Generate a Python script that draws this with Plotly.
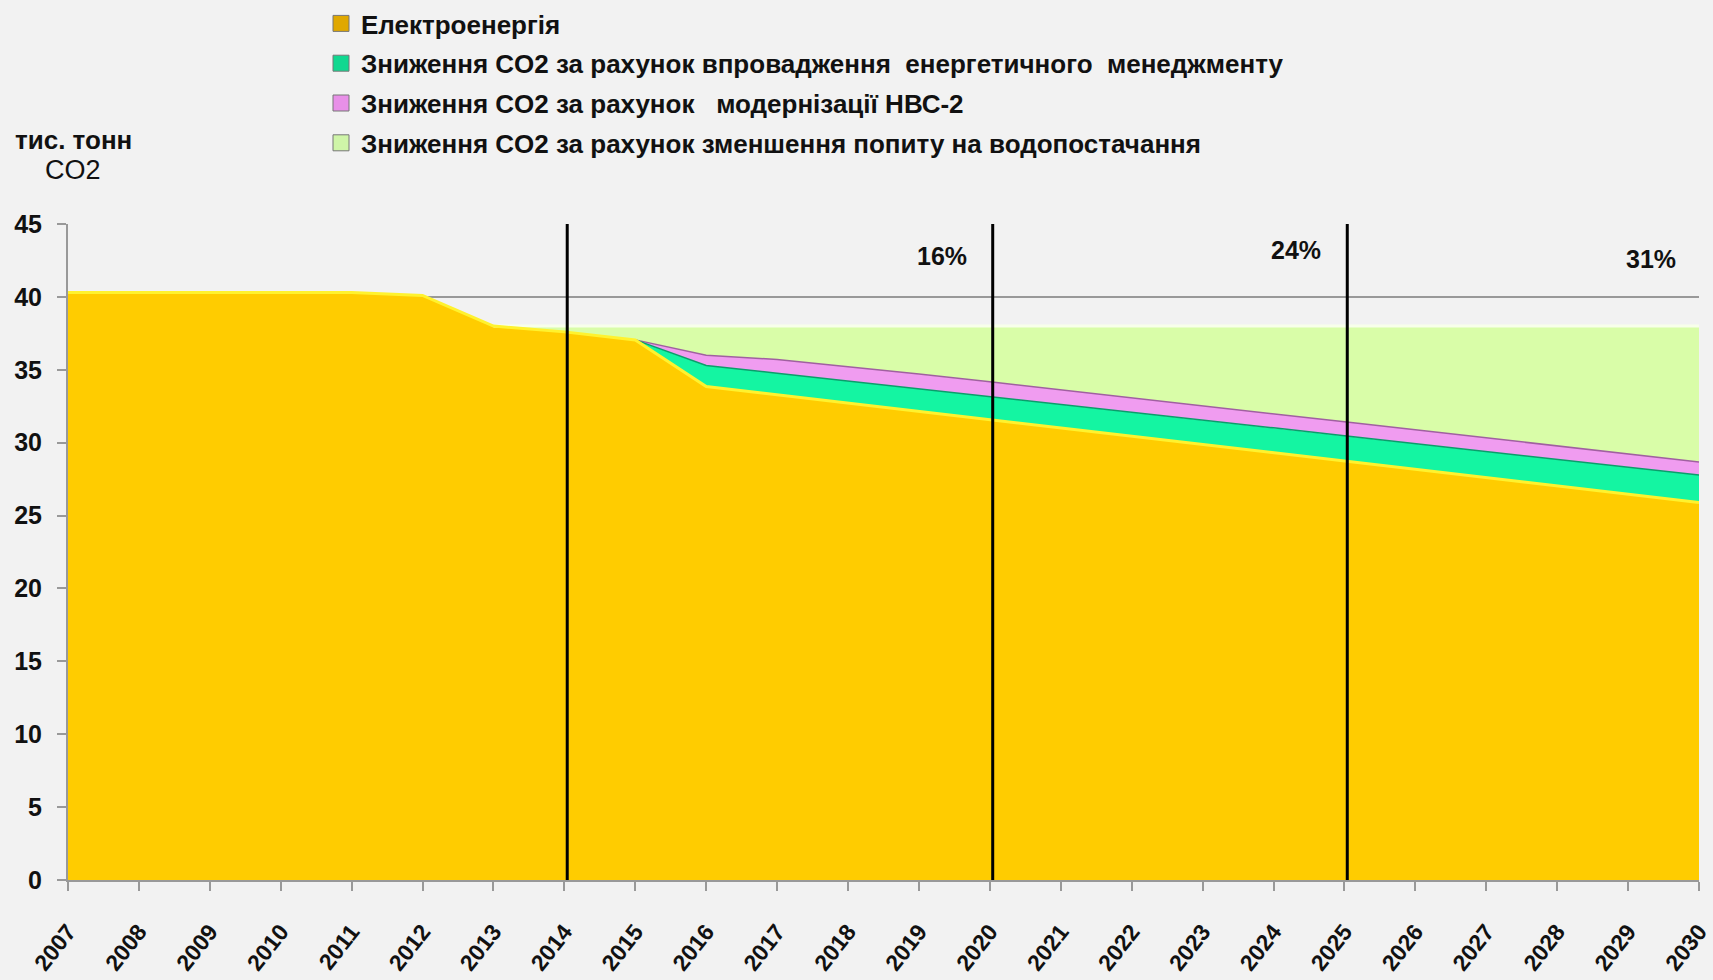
import numpy as np
import plotly.graph_objects as go

years = list(range(2007, 2031))

# тис. тонн CO2
electricity = [40.3, 40.3, 40.3, 40.3, 40.3, 40.1, 38.0, 37.6, 37.05, 33.85,
               33.28, 32.71, 32.15, 31.58, 31.01, 30.44, 29.88, 29.31, 28.74,
               28.17, 27.60, 27.04, 26.47, 25.90]
energy_mgmt = [0, 0, 0, 0, 0, 0, 0, 0, 0, 1.45, 1.48, 1.52, 1.56, 1.60, 1.63,
               1.66, 1.68, 1.71, 1.73, 1.76, 1.79, 1.82, 1.85, 1.88]
nvs2 = [0, 0, 0, 0, 0, 0, 0, 0, 0, 0.70, 0.95, 1.00, 1.00, 1.00, 1.00, 1.00,
        0.98, 0.97, 0.96, 0.95, 0.94, 0.93, 0.92, 0.90]
water_demand = [0, 0, 0, 0, 0, 0, 0, 0.40, 0.95, 2.00, 2.29, 2.77, 3.29, 3.82,
                4.36, 4.90, 5.46, 6.01, 6.57, 7.12, 7.67, 8.21, 8.76, 9.32]

series_names = [
    "Електроенергія",
    "Зниження CO2 за рахунок впровадження\u00a0 енергетичного\u00a0 менеджменту",
    "Зниження CO2 за рахунок\u00a0\u00a0 модернізації НВС-2",
    "Зниження CO2 за рахунок зменшення попиту на водопостачання",
]
milestones = [2014, 2020, 2025]
pct_years = [2020, 2025, 2030]
pct_labels = ["16%", "24%", "31%"]

fills = ["#FFCC00", "#14F5A2", "#F09CF0", "#D9FDA8"]
edge_cols = ["#FFF22E", "#0A9E6A", "#A060A0", "#F8FFEA"]
legend_fills = ["#E0A800", "#10D890", "#E890E8", "#CFF5A8"]

FONT = "Liberation Sans, Arial, sans-serif"
W, H = 1713, 980
ML, MR, MT, MB = 68, 14, 224, 100

s1 = np.array(electricity)
s2 = s1 + np.array(energy_mgmt)
s3 = s2 + np.array(nvs2)
s4 = s3 + np.array(water_demand)
stack = [s1, s2, s3, s4]

fig = go.Figure()
for i, top in enumerate(stack):
    fig.add_trace(go.Scatter(
        x=years, y=top, mode="lines",
        line=dict(width=0, color=fills[i]),
        fill="tozeroy" if i == 0 else "tonexty",
        fillcolor=fills[i], showlegend=False, hoverinfo="skip"))

# edges (bevel-like)
starts = [0, 8, 8, 6]
widths = [3, 1.5, 1.5, 3]
for i in [3, 2, 1, 0]:
    st = starts[i]
    fig.add_trace(go.Scatter(
        x=years[st:], y=stack[i][st:], mode="lines",
        line=dict(width=widths[i], color=edge_cols[i]),
        showlegend=False, hoverinfo="skip"))

# legend entries
for i, name in enumerate(series_names):
    fig.add_trace(go.Scatter(
        x=[None], y=[None], mode="markers", name=name,
        legendgroup=str(i),
        marker=dict(symbol="square", size=17, color=legend_fills[i],
                    line=dict(width=1, color="#777777"))))

shapes = [dict(type="line", xref="x", yref="y", x0=m + 0.04, x1=m + 0.04,
               y0=0, y1=45, line=dict(color="black", width=3)) for m in milestones]

pct_y = [42.8, 43.2, 42.6]
annotations = [dict(x=yr - 0.68, y=yy, xref="x", yref="y", text=lab,
                    showarrow=False,
                    font=dict(family=FONT, size=25, color="#111111", weight="bold"))
               for yr, lab, yy in zip(pct_years, pct_labels, pct_y)]

plot_w = W - ML - MR
plot_h = H - MT - MB


def to_paper(px, py):
    return (px - ML) / plot_w, (H - MB - py) / plot_h


x1, y1 = to_paper(73, 140)
x2, y2 = to_paper(73, 170)
annotations.append(dict(x=x1, y=y1, xref="paper", yref="paper", text="тис. тонн",
                        xanchor="center", yanchor="middle", showarrow=False,
                        font=dict(family=FONT, size=26, color="#111111", weight="bold")))
annotations.append(dict(x=x2, y=y2, xref="paper", yref="paper", text="CO2",
                        xanchor="center", yanchor="middle", showarrow=False,
                        font=dict(family=FONT, size=27, color="#111111")))

fig.update_layout(
    width=W, height=H,
    margin=dict(l=ML, r=MR, t=MT, b=MB, autoexpand=False),
    paper_bgcolor="#F2F2F2", plot_bgcolor="#F2F2F2",
    font=dict(family=FONT, color="#111111"),
    showlegend=True,
    legend=dict(x=321 / W, y=1.0, xref="container", yref="container",
                xanchor="left", yanchor="top",
                font=dict(family=FONT, size=26, color="#111111", weight="bold"),
                bgcolor="rgba(0,0,0,0)", itemwidth=30, tracegroupgap=3,
                traceorder="grouped"),
    xaxis=dict(range=[2007, 2030], tickmode="array", tickvals=years,
               ticktext=[str(y) for y in years], ticklabeloverflow="allow",
               showgrid=False, zeroline=False, showline=True, linecolor="#999999",
               linewidth=2, ticks="outside", ticklen=9, tickcolor="#999999",
               tickwidth=2, tickangle=-52, ticklabelstandoff=18,
               tickfont=dict(family=FONT, size=23, color="#111111", weight="bold")),
    yaxis=dict(range=[0, 45], tickmode="linear", tick0=0, dtick=5,
               showgrid=True, gridcolor="#999999", gridwidth=2, zeroline=False,
               showline=True, linecolor="#999999", linewidth=2, ticks="outside",
               ticklen=9, tickcolor="#999999", tickwidth=2, ticklabelstandoff=10,
               tickfont=dict(family=FONT, size=25, color="#111111", weight="bold")),
    shapes=shapes,
    annotations=annotations,
)

fig.write_html("out.html", config={"displayModeBar": False},
               post_script="document.body.style.margin='0';")
